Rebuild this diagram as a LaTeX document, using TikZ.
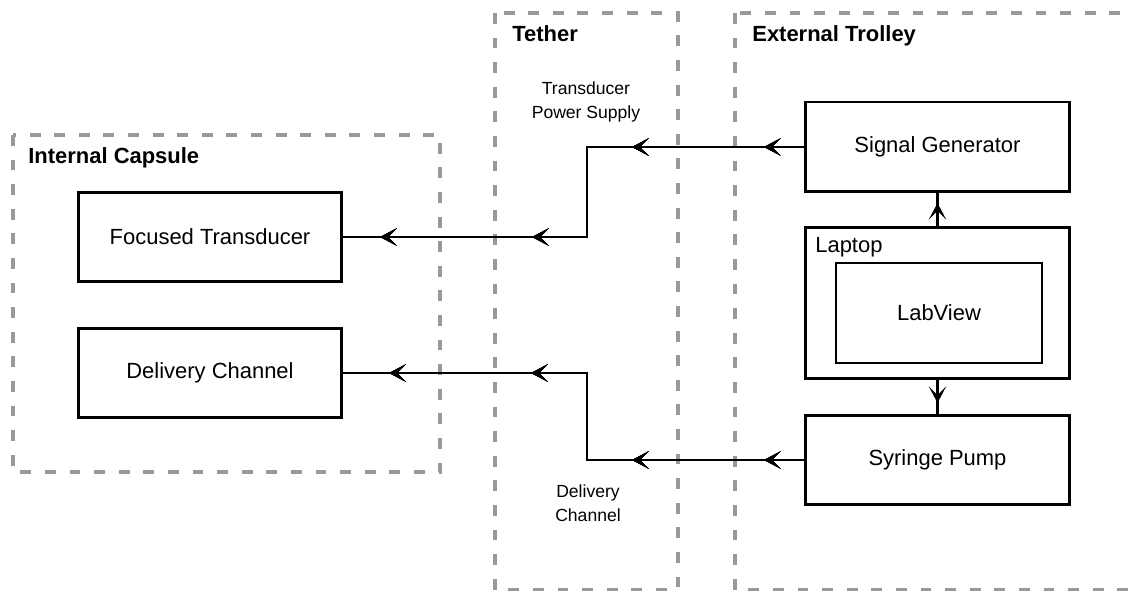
\documentclass[tikz,border=0pt]{standalone}
\usepackage{fontspec}
\setmainfont{Liberation Sans}
\usepackage{tikz}
\usetikzlibrary{arrows.meta,calc,positioning,decorations.markings}

\tikzset{
  group/.style={draw=black!40,line width=2pt,dash pattern=on 6.2pt off 7.8pt},
  grouptitle/.style={anchor=base west,inner sep=0pt,font=\fontsize{12.5}{15}\selectfont\bfseries},
  block/.style={draw,line width=1.7pt,minimum width=5.28cm,minimum height=1.8cm,
    font=\fontsize{12.5}{15}\selectfont},
  wirelabel/.style={align=center,font=\fontsize{10}{13.6}\selectfont},
  tip/.style={line width=1.3pt,decoration={markings,
    mark=at position #1 with {\arrow{Stealth[length=9.5pt,width=10pt,inset=5pt]}}},
    postaction={decorate}},
}

\begin{document}
\begin{tikzpicture}[x=0.02cm,y=-0.02cm]
  \useasboundingbox (0,0) rectangle (1133,591);

  % Groups
  \draw[group] (13,135) rectangle (440,472);
  \draw[group] (495,13) rectangle (678,590);
  \draw[group] (735,13) rectangle (1150,590);
  \node[grouptitle] (capsule) at (28,164) {Internal Capsule};
  \node[grouptitle] (tether) at (512,42) {Tether};
  \node[grouptitle] (trolley) at (752,42) {External Trolley};

  % Capsule side
  \node[block] (ft) at (210,237) {Focused Transducer};
  \node[block] (dc) at (210,373) {Delivery Channel};

  % Trolley side
  \node[block] (sg) at (937.5,147) {Signal Generator};
  \node[block,minimum height=3.04cm] (laptop) at (937.5,303) {};
  \node[anchor=base west,inner sep=0pt,font=\fontsize{12.5}{15}\selectfont] (laptopname) at (815,253) {Laptop};
  \node[draw,line width=1.1pt,minimum width=4.12cm,minimum height=2cm,
    font=\fontsize{12.5}{15}\selectfont] (lv) at (939,313) {LabView};
  \node[block] (sp) at (937.5,460) {Syringe Pump};

  % Tether lines
  \coordinate (bendtop) at (587,147);
  \coordinate (bendbot) at (587,460);
  \draw[tip=0.8cm,tip=3.44cm,tip=7.24cm,tip=10.28cm] (sg.west) -- (bendtop) |- (ft.east);
  \draw[tip=0.8cm,tip=3.44cm,tip=7.2cm,tip=10.04cm] (sp.west) -- (bendbot) |- (dc.east);
  \node[wirelabel] (tpslabel) at (586,102) {Transducer\\Power Supply};
  \node[wirelabel] (dclabel) at (588,503) {Delivery\\Channel};

  % Laptop control
  \draw[tip=0.45cm] (laptop.north) -- (sg.south);
  \draw[tip=0.45cm] (laptop.south) -- (sp.north);
\end{tikzpicture}
\end{document}
